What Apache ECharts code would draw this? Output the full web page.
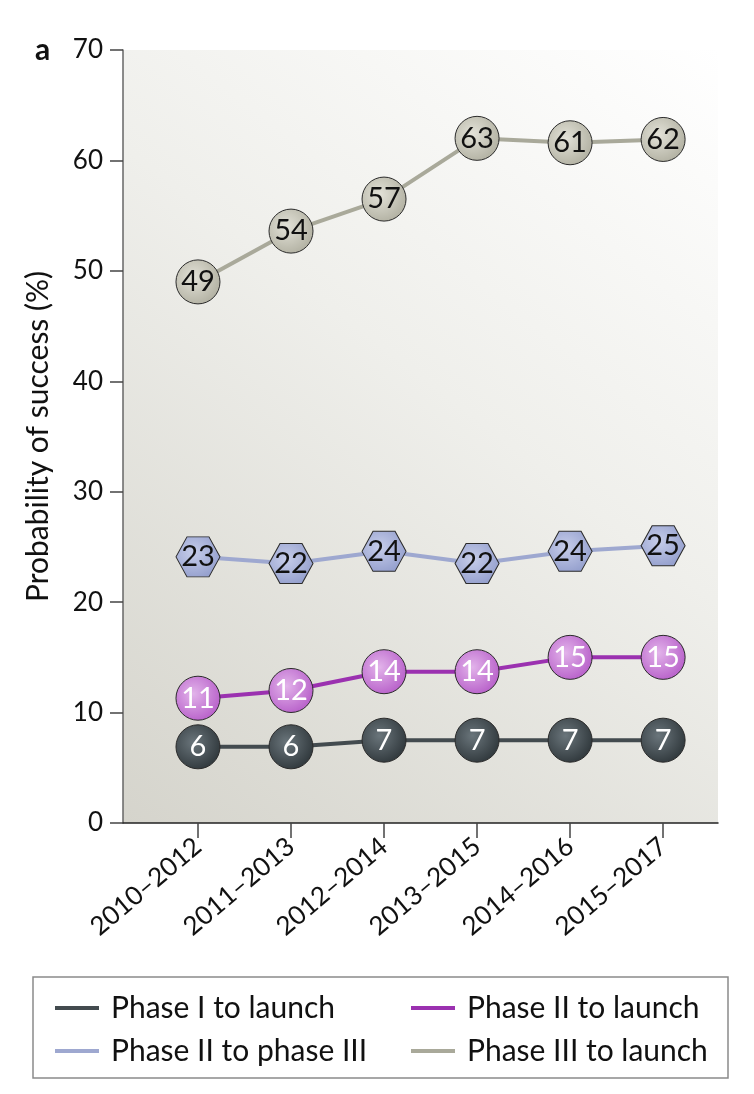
<!DOCTYPE html>
<html>
<head>
<meta charset="utf-8">
<script src="https://cdn.jsdelivr.net/npm/echarts@6/dist/echarts.min.js"></script>
<style>
  html, body { margin: 0; padding: 0; background: #fff; }
  #chart { width: 754px; height: 1094px; }
</style>
</head>
<body>
<div id="chart"></div>
<script>
// periods on the x axis
var periods = ['2010–2012', '2011–2013', '2012–2014', '2013–2015', '2014–2016', '2015–2017'];
var yTicks = [0, 10, 20, 30, 40, 50, 60, 70];

// plotted positions and the printed labels
var phase1Launch = [6.9, 6.9, 7.5, 7.5, 7.5, 7.5];
var phase1Labels = [6, 6, 7, 7, 7, 7];
var phase2Launch = [11.3, 12.0, 13.7, 13.7, 15.0, 15.0];
var phase2Labels = [11, 12, 14, 14, 15, 15];
var phase2To3 = [24.1, 23.5, 24.6, 23.5, 24.6, 25.1];
var phase2To3Labels = [23, 22, 24, 22, 24, 25];
var phase3Launch = [49.0, 53.6, 56.5, 62.0, 61.6, 61.9];
var phase3Labels = [49, 54, 57, 63, 61, 62];

var font = 'Lato, "Open Sans", sans-serif';
var hexagon = 'path://M0,20 L11,0 L33,0 L44,20 L33,40 L11,40 Z';

function radial(light, dark) {
    return {
        type: 'radial', x: 0.4, y: 0.4, r: 0.65,
        colorStops: [{ offset: 0, color: light }, { offset: 1, color: dark }]
    };
}

function makeSeries(name, values, labels, lineColor, light, dark, textColor, symbol, size) {
    return {
        name: name,
        type: 'line',
        data: values.map(function (v, i) { return [i, v]; }),
        symbol: symbol,
        symbolSize: size,
        lineStyle: { color: lineColor, width: 4 },
        itemStyle: { color: radial(light, dark), borderColor: '#2b2b2b', borderWidth: 1 },
        label: {
            show: true,
            position: 'inside',
            fontFamily: font,
            fontSize: 29,
            color: textColor,
            formatter: function (p) { return labels[p.dataIndex]; }
        },
        emphasis: { disabled: true },
        z: 3
    };
}

var legendText = { fontFamily: font, fontSize: 30, color: '#111', lineHeight: 30, padding: [0, 0, 0, 7] };

function legendBlock(left, items) {
    return {
        orient: 'vertical', left: left, top: 988, itemGap: 13,
        icon: 'rect', itemWidth: 44, itemHeight: 4,
        itemStyle: { borderWidth: 0 },
        textStyle: legendText,
        data: items
    };
}

var option = {
    animation: false,
    title: {
        text: 'a', left: 30, top: 30,
        textStyle: { fontFamily: font, fontSize: 30, fontWeight: 'bold', color: '#111' }
    },
    grid: {
        left: 123, right: 36, top: 50, bottom: 271,
        show: true,
        borderWidth: 0,
        backgroundColor: {
            type: 'linear', x: 0, y: 1, x2: 1, y2: 0,
            colorStops: [{ offset: 0, color: '#d5d4cc' }, { offset: 0.55, color: '#efefeb' }, { offset: 1, color: '#ffffff' }]
        }
    },
    xAxis: {
        type: 'value',
        min: -0.806,
        max: 5.59,
        splitLine: { show: false },
        axisLine: { lineStyle: { color: '#222', width: 1.5 } },
        axisTick: { show: true, customValues: [0, 1, 2, 3, 4, 5], length: 15, lineStyle: { color: '#444', width: 1.5 } },
        axisLabel: {
            customValues: [0, 1, 2, 3, 4, 5],
            rotate: 40,
            margin: 20,
            fontFamily: font,
            fontSize: 26,
            color: '#111',
            formatter: function (v) { return periods[Math.round(v)]; }
        }
    },
    yAxis: {
        type: 'value',
        min: yTicks[0],
        max: yTicks[yTicks.length - 1],
        interval: 10,
        name: 'Probability of success (%)',
        nameLocation: 'middle',
        nameGap: 70,
        nameTextStyle: { fontFamily: font, fontSize: 30, color: '#111' },
        splitLine: { show: false },
        axisLine: { show: true, onZero: false, lineStyle: { color: '#666', width: 1.5 } },
        axisTick: { show: true, length: 13, lineStyle: { color: '#444', width: 1.5 } },
        axisLabel: { fontFamily: font, fontSize: 26, color: '#111', margin: 20 }
    },
    legend: [
        legendBlock(50, [
            { name: 'Phase I to launch', itemStyle: { color: '#434b4f' } },
            { name: 'Phase II to phase III', itemStyle: { color: '#9ea8d0' } }
        ]),
        legendBlock(406, [
            { name: 'Phase II to launch', itemStyle: { color: '#9b31b0' } },
            { name: 'Phase III to launch', itemStyle: { color: '#a9a99a' } }
        ])
    ],
    graphic: [{
        type: 'rect',
        shape: { x: 33, y: 977, width: 695, height: 101 },
        style: { fill: 'none', stroke: '#8a8a8a', lineWidth: 1.5 },
        z: -1
    }],
    series: [
        makeSeries('Phase I to launch', phase1Launch, phase1Labels, '#434b4f', '#6a757b', '#2f373b', '#fff', 'circle', 44),
        makeSeries('Phase II to launch', phase2Launch, phase2Labels, '#9b31b0', '#e2b3ea', '#b75fc9', '#fff', 'circle', 44),
        makeSeries('Phase II to phase III', phase2To3, phase2To3Labels, '#9ea8d0', '#c6cdea', '#949fcd', '#111', hexagon, [44, 40]),
        makeSeries('Phase III to launch', phase3Launch, phase3Labels, '#a9a99a', '#e3e2d8', '#b1b0a1', '#111', 'circle', 44)
    ]
};

var chart = echarts.init(document.getElementById('chart'));
chart.setOption(option);
</script>
</body>
</html>
